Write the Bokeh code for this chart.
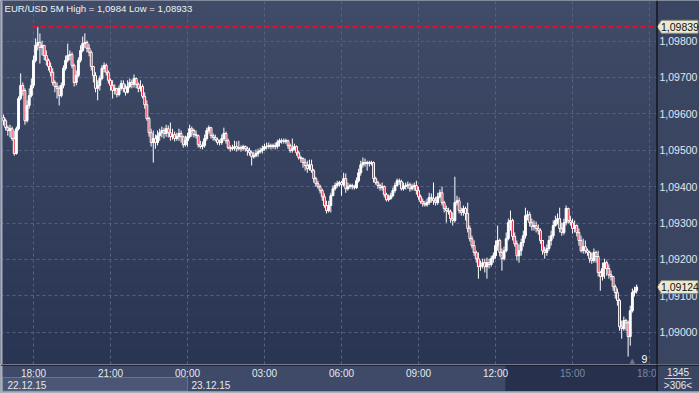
import numpy as np
import pandas as pd
from bokeh.plotting import figure
from bokeh.layouts import column
from bokeh.models import Range1d, FixedTicker, Grid, Label, Span
from bokeh.core.properties import value
from bokeh.embed import file_html
from bokeh.resources import INLINE

# ---------------- data (EUR/USD, 5 minute candles) ----------------
first_time = "2015-12-22 16:50"
first_open = 1.09590

closes = [
    1.09581, 1.09562, 1.09554, 1.09559, 1.09532, 1.09491, 1.09559, 1.09642, 1.09678, 1.09664,
    1.09581, 1.09623, 1.09650, 1.09678, 1.09747, 1.09788, 1.09796, 1.09782, 1.09788, 1.09760,
    1.09747, 1.09730, 1.09714, 1.09686, 1.09675, 1.09670, 1.09650, 1.09678, 1.09725, 1.09747,
    1.09760, 1.09763, 1.09733, 1.09686, 1.09705, 1.09747, 1.09774, 1.09793, 1.09796, 1.09780,
    1.09769, 1.09730, 1.09705, 1.09670, 1.09678, 1.09697, 1.09725, 1.09733, 1.09714, 1.09692,
    1.09678, 1.09664, 1.09670, 1.09653, 1.09670, 1.09683, 1.09670, 1.09659, 1.09675, 1.09686,
    1.09681, 1.09697, 1.09681, 1.09670, 1.09675, 1.09648, 1.09625, 1.09587, 1.09548, 1.09521,
    1.09532, 1.09521, 1.09540, 1.09548, 1.09554, 1.09546, 1.09559, 1.09548, 1.09537, 1.09543,
    1.09532, 1.09537, 1.09546, 1.09537, 1.09515, 1.09526, 1.09537, 1.09559, 1.09554, 1.09543,
    1.09540, 1.09515, 1.09510, 1.09513, 1.09532, 1.09554, 1.09562, 1.09540, 1.09535, 1.09529,
    1.09521, 1.09521, 1.09532, 1.09546, 1.09526, 1.09507, 1.09504, 1.09507, 1.09510, 1.09504,
    1.09507, 1.09504, 1.09510, 1.09504, 1.09499, 1.09493, 1.09482, 1.09485, 1.09491, 1.09496,
    1.09499, 1.09504, 1.09510, 1.09510, 1.09513, 1.09510, 1.09513, 1.09510, 1.09521, 1.09526,
    1.09526, 1.09524, 1.09526, 1.09513, 1.09499, 1.09504, 1.09510, 1.09493, 1.09480, 1.09477,
    1.09466, 1.09458, 1.09449, 1.09460, 1.09444, 1.09422, 1.09408, 1.09400, 1.09389, 1.09372,
    1.09348, 1.09334, 1.09348, 1.09375, 1.09394, 1.09403, 1.09408, 1.09411, 1.09405, 1.09422,
    1.09394, 1.09400, 1.09403, 1.09400, 1.09397, 1.09416, 1.09438, 1.09460, 1.09466, 1.09463,
    1.09466, 1.09463, 1.09466, 1.09422, 1.09411, 1.09403, 1.09397, 1.09400, 1.09378, 1.09364,
    1.09367, 1.09375, 1.09389, 1.09403, 1.09416, 1.09414, 1.09394, 1.09400, 1.09403, 1.09405,
    1.09394, 1.09400, 1.09403, 1.09389, 1.09372, 1.09359, 1.09353, 1.09350, 1.09356, 1.09370,
    1.09367, 1.09361, 1.09356, 1.09372, 1.09383, 1.09356, 1.09340, 1.09334, 1.09331, 1.09312,
    1.09307, 1.09356, 1.09361, 1.09334, 1.09329, 1.09340, 1.09326, 1.09285, 1.09257, 1.09238,
    1.09219, 1.09202, 1.09180, 1.09183, 1.09191, 1.09180, 1.09191, 1.09186, 1.09202, 1.09210,
    1.09238, 1.09252, 1.09219, 1.09202, 1.09224, 1.09257, 1.09301, 1.09307, 1.09263, 1.09243,
    1.09210, 1.09224, 1.09246, 1.09265, 1.09320, 1.09323, 1.09301, 1.09290, 1.09293, 1.09285,
    1.09279, 1.09252, 1.09224, 1.09219, 1.09230, 1.09252, 1.09265, 1.09293, 1.09307, 1.09312,
    1.09285, 1.09274, 1.09301, 1.09340, 1.09307, 1.09301, 1.09285, 1.09293, 1.09274, 1.09252,
    1.09224, 1.09235, 1.09224, 1.09219, 1.09202, 1.09197, 1.09219, 1.09208, 1.09164, 1.09153,
    1.09175, 1.09191, 1.09175, 1.09158, 1.09153, 1.09125, 1.09109, 1.09087, 1.09015, 1.09010,
    1.09032, 1.09026, 1.08988, 1.09059, 1.09109, 1.09114, 1.09124,
]

highs = [
    1.09598, 1.09587, 1.09568, 1.09570, 1.09565, 1.09554, 1.09565, 1.09648, 1.09711, 1.09686,
    1.09670, 1.09637, 1.09670, 1.09697, 1.09760, 1.09807, 1.09839, 1.09821, 1.09801, 1.09788,
    1.09774, 1.09752, 1.09741, 1.09725, 1.09692, 1.09686, 1.09678, 1.09686, 1.09733, 1.09760,
    1.09793, 1.09774, 1.09769, 1.09738, 1.09719, 1.09755, 1.09788, 1.09812, 1.09821, 1.09801,
    1.09791, 1.09774, 1.09730, 1.09714, 1.09692, 1.09705, 1.09733, 1.09741, 1.09738, 1.09719,
    1.09697, 1.09692, 1.09681, 1.09670, 1.09678, 1.09692, 1.09692, 1.09681, 1.09692, 1.09697,
    1.09694, 1.09708, 1.09700, 1.09686, 1.09692, 1.09681, 1.09659, 1.09637, 1.09592, 1.09559,
    1.09554, 1.09543, 1.09554, 1.09559, 1.09565, 1.09562, 1.09570, 1.09568, 1.09576, 1.09559,
    1.09551, 1.09548, 1.09559, 1.09554, 1.09540, 1.09540, 1.09548, 1.09570, 1.09565, 1.09559,
    1.09554, 1.09543, 1.09526, 1.09524, 1.09543, 1.09562, 1.09568, 1.09559, 1.09546, 1.09543,
    1.09535, 1.09529, 1.09543, 1.09562, 1.09551, 1.09532, 1.09513, 1.09515, 1.09526, 1.09524,
    1.09526, 1.09513, 1.09515, 1.09513, 1.09510, 1.09507, 1.09499, 1.09496, 1.09502, 1.09504,
    1.09507, 1.09513, 1.09518, 1.09521, 1.09521, 1.09518, 1.09518, 1.09521, 1.09529, 1.09532,
    1.09532, 1.09532, 1.09532, 1.09529, 1.09518, 1.09532, 1.09518, 1.09513, 1.09499, 1.09485,
    1.09480, 1.09477, 1.09471, 1.09474, 1.09474, 1.09449, 1.09427, 1.09416, 1.09405, 1.09394,
    1.09381, 1.09361, 1.09361, 1.09383, 1.09403, 1.09411, 1.09416, 1.09416, 1.09416, 1.09438,
    1.09436, 1.09411, 1.09408, 1.09408, 1.09405, 1.09425, 1.09449, 1.09471, 1.09480, 1.09477,
    1.09471, 1.09471, 1.09471, 1.09469, 1.09427, 1.09416, 1.09408, 1.09411, 1.09403, 1.09383,
    1.09378, 1.09383, 1.09397, 1.09411, 1.09422, 1.09422, 1.09419, 1.09411, 1.09411, 1.09414,
    1.09411, 1.09408, 1.09411, 1.09416, 1.09400, 1.09378, 1.09367, 1.09361, 1.09367, 1.09383,
    1.09381, 1.09411, 1.09372, 1.09383, 1.09392, 1.09400, 1.09361, 1.09348, 1.09342, 1.09337,
    1.09329, 1.09427, 1.09375, 1.09370, 1.09342, 1.09348, 1.09345, 1.09356, 1.09293, 1.09265,
    1.09252, 1.09224, 1.09219, 1.09197, 1.09202, 1.09202, 1.09205, 1.09202, 1.09210, 1.09219,
    1.09252, 1.09293, 1.09257, 1.09230, 1.09235, 1.09274, 1.09312, 1.09334, 1.09312, 1.09274,
    1.09252, 1.09241, 1.09257, 1.09279, 1.09342, 1.09334, 1.09331, 1.09312, 1.09307, 1.09304,
    1.09296, 1.09285, 1.09252, 1.09235, 1.09241, 1.09265, 1.09279, 1.09307, 1.09320, 1.09326,
    1.09342, 1.09301, 1.09312, 1.09348, 1.09342, 1.09320, 1.09312, 1.09307, 1.09296, 1.09285,
    1.09265, 1.09257, 1.09252, 1.09230, 1.09224, 1.09219, 1.09230, 1.09224, 1.09224, 1.09169,
    1.09191, 1.09202, 1.09197, 1.09186, 1.09169, 1.09153, 1.09131, 1.09120, 1.09092, 1.09032,
    1.09043, 1.09037, 1.09032, 1.09073, 1.09120, 1.09125, 1.09131,
]

lows = [
    1.09568, 1.09554, 1.09540, 1.09535, 1.09526, 1.09485, 1.09488, 1.09554, 1.09637, 1.09650,
    1.09570, 1.09576, 1.09614, 1.09645, 1.09670, 1.09741, 1.09774, 1.09738, 1.09760, 1.09747,
    1.09733, 1.09719, 1.09703, 1.09678, 1.09659, 1.09642, 1.09623, 1.09645, 1.09670, 1.09719,
    1.09741, 1.09747, 1.09725, 1.09675, 1.09678, 1.09700, 1.09741, 1.09769, 1.09780, 1.09769,
    1.09758, 1.09719, 1.09686, 1.09659, 1.09637, 1.09664, 1.09692, 1.09714, 1.09705, 1.09683,
    1.09664, 1.09642, 1.09653, 1.09645, 1.09648, 1.09664, 1.09659, 1.09650, 1.09656, 1.09670,
    1.09670, 1.09672, 1.09670, 1.09659, 1.09661, 1.09642, 1.09614, 1.09581, 1.09537, 1.09510,
    1.09466, 1.09504, 1.09513, 1.09526, 1.09535, 1.09532, 1.09537, 1.09535, 1.09526, 1.09529,
    1.09524, 1.09526, 1.09526, 1.09521, 1.09507, 1.09510, 1.09510, 1.09532, 1.09537, 1.09535,
    1.09532, 1.09507, 1.09504, 1.09502, 1.09507, 1.09526, 1.09546, 1.09532, 1.09526, 1.09524,
    1.09515, 1.09513, 1.09515, 1.09526, 1.09518, 1.09502, 1.09496, 1.09499, 1.09499, 1.09496,
    1.09499, 1.09496, 1.09499, 1.09496, 1.09485, 1.09485, 1.09458, 1.09477, 1.09480, 1.09482,
    1.09491, 1.09491, 1.09499, 1.09502, 1.09504, 1.09502, 1.09504, 1.09502, 1.09504, 1.09510,
    1.09518, 1.09518, 1.09518, 1.09504, 1.09493, 1.09493, 1.09499, 1.09485, 1.09474, 1.09466,
    1.09452, 1.09444, 1.09438, 1.09444, 1.09438, 1.09411, 1.09400, 1.09394, 1.09381, 1.09361,
    1.09342, 1.09326, 1.09329, 1.09329, 1.09375, 1.09389, 1.09397, 1.09400, 1.09375, 1.09400,
    1.09383, 1.09389, 1.09394, 1.09392, 1.09392, 1.09394, 1.09411, 1.09430, 1.09452, 1.09455,
    1.09444, 1.09455, 1.09458, 1.09411, 1.09405, 1.09394, 1.09389, 1.09389, 1.09370, 1.09359,
    1.09359, 1.09364, 1.09370, 1.09383, 1.09400, 1.09405, 1.09389, 1.09389, 1.09392, 1.09394,
    1.09386, 1.09389, 1.09389, 1.09378, 1.09364, 1.09353, 1.09345, 1.09345, 1.09345, 1.09350,
    1.09356, 1.09350, 1.09348, 1.09350, 1.09367, 1.09348, 1.09329, 1.09301, 1.09323, 1.09301,
    1.09293, 1.09301, 1.09348, 1.09326, 1.09320, 1.09320, 1.09307, 1.09274, 1.09249, 1.09230,
    1.09210, 1.09191, 1.09147, 1.09169, 1.09175, 1.09164, 1.09147, 1.09175, 1.09180, 1.09191,
    1.09202, 1.09224, 1.09208, 1.09169, 1.09197, 1.09219, 1.09252, 1.09279, 1.09252, 1.09235,
    1.09197, 1.09191, 1.09210, 1.09235, 1.09257, 1.09307, 1.09290, 1.09279, 1.09279, 1.09274,
    1.09268, 1.09243, 1.09213, 1.09202, 1.09210, 1.09224, 1.09238, 1.09257, 1.09290, 1.09296,
    1.09274, 1.09265, 1.09268, 1.09293, 1.09298, 1.09293, 1.09271, 1.09274, 1.09263, 1.09238,
    1.09219, 1.09216, 1.09216, 1.09210, 1.09191, 1.09188, 1.09191, 1.09191, 1.09153, 1.09114,
    1.09142, 1.09147, 1.09155, 1.09147, 1.09142, 1.09114, 1.09092, 1.09073, 1.09004, 1.08982,
    1.09004, 1.09004, 1.08933, 1.08963, 1.09054, 1.09098, 1.09106,
]

y_ticks = [1.090, 1.091, 1.092, 1.093, 1.094, 1.095, 1.096, 1.097, 1.098]
time_ticks = ["2015-12-22 18:00", "2015-12-22 21:00", "2015-12-23 00:00", "2015-12-23 03:00",
              "2015-12-23 06:00", "2015-12-23 09:00", "2015-12-23 12:00", "2015-12-23 15:00",
              "2015-12-23 18:00"]
time_labels = ["18:00", "21:00", "00:00", "03:00", "06:00", "09:00", "12:00", "15:00", "18:00"]
date_starts = ["2015-12-22 00:00", "2015-12-23 00:00"]
date_labels = ["22.12.15", "23.12.15"]
title_text = "EUR/USD 5M High = 1,0984 Low = 1,08933"
last_price = 1.09124
bar_count_text = "1345"
visible_bars_text = ">306<"
scroll_mark = "2015-12-23 12:23"
marker_text = "9"

# ---------------- helpers ----------------
EPOCH = pd.Timestamp("1970-01-01")
def ms(t):
    return (pd.Timestamp(t) - EPOCH) / pd.Timedelta(milliseconds=1)

n = len(closes)
times = pd.date_range(first_time, periods=n, freq="5min")
x_ms = np.array([ms(t) for t in times])
opens = [first_open] + closes[:-1]
o = np.array(opens); c = np.array(closes)
top = np.maximum(o, c); bot = np.minimum(o, c)
body_color = np.where(c < o, "#e5132f", "#ffffff")

# screen scale of the reference: 77 px per 3 hours (18:00 at x=33),
# 36.4 px per 0.001 of price (1.09800 at y=40.5)
MS_PX = 3 * 3600 * 1000 / 77.0
T18 = ms(time_ticks[0])
def xpx(px):
    return T18 + (px - 33) * MS_PX
PX_PER_PRICE = 36400.0
def ypr(py):
    return 1.098 - (py - 40.5) / PX_PER_PRICE

W = 699
HA = 364
HB = 393 - HA
FONT = "Liberation Sans"
XR = Range1d(xpx(0), xpx(W))
CHART_R = xpx(656)

def fmt(vv):
    return f"{vv:.5f}".replace(".", ",")

# ---------------- main chart ----------------
p = figure(width=W, height=HA, output_backend="svg", toolbar_location=None,
           x_axis_location=None, y_axis_location=None,
           x_range=XR, y_range=Range1d(ypr(HA), ypr(0)), min_border=0)
p.outline_line_color = None
p.background_fill_color = "#35415f"
p.border_fill_color = "#35415f"
p.xgrid.visible = False
p.ygrid.visible = False

# vertical gradient background of the chart area
GH = 256
top_rgb = np.array([64, 76, 104]); bot_rgb = np.array([42, 53, 83])
img = np.empty((GH, 1), dtype=np.uint32)
v = img.view(dtype=np.uint8).reshape((GH, 1, 4))
for r in range(GH):
    f = r / (GH - 1)
    col = bot_rgb + (top_rgb - bot_rgb) * f
    v[r, 0, 0], v[r, 0, 1], v[r, 0, 2], v[r, 0, 3] = int(col[0]), int(col[1]), int(col[2]), 255
p.image_rgba(image=[img], x=xpx(0), y=ypr(HA), dw=CHART_R - xpx(0), dh=ypr(0) - ypr(HA), level="image")

tick_ms = [ms(t) for t in time_ticks]
for dim, ticks in ((0, tick_ms), (1, y_ticks)):
    p.add_layout(Grid(dimension=dim, ticker=FixedTicker(ticks=ticks), grid_line_color="#56627f",
                      grid_line_dash="3 3", grid_line_width=1), "center")

# candles
p.segment(x0=x_ms, y0=highs, x1=x_ms, y1=lows, line_color="#ffffff", line_width=1)
p.vbar(x=x_ms, width=4.4 * 60 * 1000, top=top, bottom=bot, fill_color=body_color,
       line_color="#ffffff", line_width=1)

# high line
hi_idx = int(np.argmax(highs))
hi_val = highs[hi_idx]
p.segment(x0=[x_ms[hi_idx] - 2.5 * 5 * 60 * 1000], y0=[hi_val], x1=[CHART_R], y1=[hi_val],
          line_color="#e0102a", line_width=2.2, line_dash="5 3")

# right price panel
p.quad(left=[CHART_R], right=[xpx(W)], bottom=[ypr(HA)], top=[ypr(0)], fill_color="#3a4562",
       line_color=None)
p.text(x=[xpx(659)] * len(y_ticks), y=y_ticks, text=[fmt(t) for t in y_ticks],
       text_color="#e2e7ef", text_font=value(FONT), text_font_size=value("10.5px"),
       text_align="left", text_baseline="middle")

# price tags
TAG_H = 6.5 / PX_PER_PRICE
tag_vals = [hi_val, last_price]
p.patches(xs=[[xpx(656.5), xpx(661), xpx(697.5), xpx(697.5), xpx(661)] for _ in tag_vals],
          ys=[[t, t + TAG_H, t + TAG_H, t - TAG_H, t - TAG_H] for t in tag_vals],
          fill_color="#ece9cf", line_color="#8c8c7c", line_width=1)
p.text(x=[xpx(660.5)] * 2, y=tag_vals, text=[fmt(t) for t in tag_vals], text_color="#111111",
       text_font=value(FONT), text_font_size=value("10.5px"), text_align="left",
       text_baseline="middle")

p.add_layout(Span(location=xpx(656.5), dimension="height", line_color="#000000", line_width=1))
p.quad(left=[xpx(0)], right=[xpx(2)], bottom=[ypr(HA)], top=[ypr(0)], fill_color="#a9b0bd",
       line_color=None)

# title and small marker
p.add_layout(Label(x=4, x_units="screen", y=HA - 8, y_units="screen", text=title_text,
                   text_font=FONT, text_font_size="9.6px", text_color="#f0f2f6",
                   text_baseline="middle"))
p.add_layout(Label(x=641, x_units="screen", y=6, y_units="screen", text=marker_text,
                   text_font=FONT, text_font_size="10.5px", text_color="#ffffff",
                   text_baseline="middle"))
p.add_layout(Label(x=629, x_units="screen", y=4, y_units="screen", text="▲",
                   text_font="DejaVu Sans", text_font_size="7px", text_color="#6b7690",
                   text_baseline="middle"))

# ---------------- bottom time strip ----------------
q = figure(width=W, height=HB, output_backend="svg", toolbar_location=None,
           x_axis_location=None, y_axis_location=None,
           x_range=XR, y_range=Range1d(HB, 0), min_border=0)
q.outline_line_color = None
q.xgrid.visible = False
q.ygrid.visible = False
q.background_fill_color = "#3e4a67"
q.border_fill_color = "#3e4a67"

day2 = ms(date_starts[1])
q.quad(left=[xpx(2)], right=[day2], top=[13], bottom=[26.5], fill_color="#4a5673",
       line_color="#68738e", line_width=1)
scroll_x = ms(scroll_mark)
q.quad(left=[scroll_x], right=[CHART_R], top=[1], bottom=[26.5], fill_color="#27314d",
       line_color=None)

lbl_colors = ["#e4e9f1" if t < scroll_x else "#7b87a2" for t in tick_ms]
q.text(x=tick_ms, y=[8.5] * len(tick_ms), text=time_labels, text_color=lbl_colors,
       text_font=value(FONT), text_font_size=value("10px"), text_align="center",
       text_baseline="middle")
date_x = [max(ms(d), xpx(3)) + 4 * MS_PX for d in date_starts]
q.text(x=date_x, y=[20] * 2, text=date_labels, text_color="#e4e9f1",
       text_font=value(FONT), text_font_size=value("10px"), text_align="left",
       text_baseline="middle")

# right-hand info box
q.quad(left=[CHART_R], right=[xpx(W)], top=[0], bottom=[HB], fill_color="#3a4562", line_color=None)
mid_r = xpx(677.5)
q.text(x=[mid_r, mid_r], y=[7.5, 20.5], text=[bar_count_text, visible_bars_text],
       text_color="#e4e9f1", text_font=value(FONT), text_font_size=value("10px"),
       text_align="center", text_baseline="middle")
q.segment(x0=[xpx(664)], y0=[14], x1=[xpx(691)], y1=[14], line_color="#c9ced8", line_width=1)

q.add_layout(Span(location=0.5, dimension="width", line_color="#000000", line_width=1))
q.segment(x0=[xpx(656.5)], y0=[0], x1=[xpx(656.5)], y1=[26.8], line_color="#000000", line_width=1)
q.quad(left=[xpx(0)], right=[xpx(W)], top=[26.8], bottom=[HB], fill_color="#a9b0bd", line_color=None)
q.quad(left=[xpx(0)], right=[xpx(2)], top=[0], bottom=[HB], fill_color="#a9b0bd", line_color=None)

layout = column(p, q, spacing=0)
open("out.html", "w").write(file_html(layout, INLINE))
